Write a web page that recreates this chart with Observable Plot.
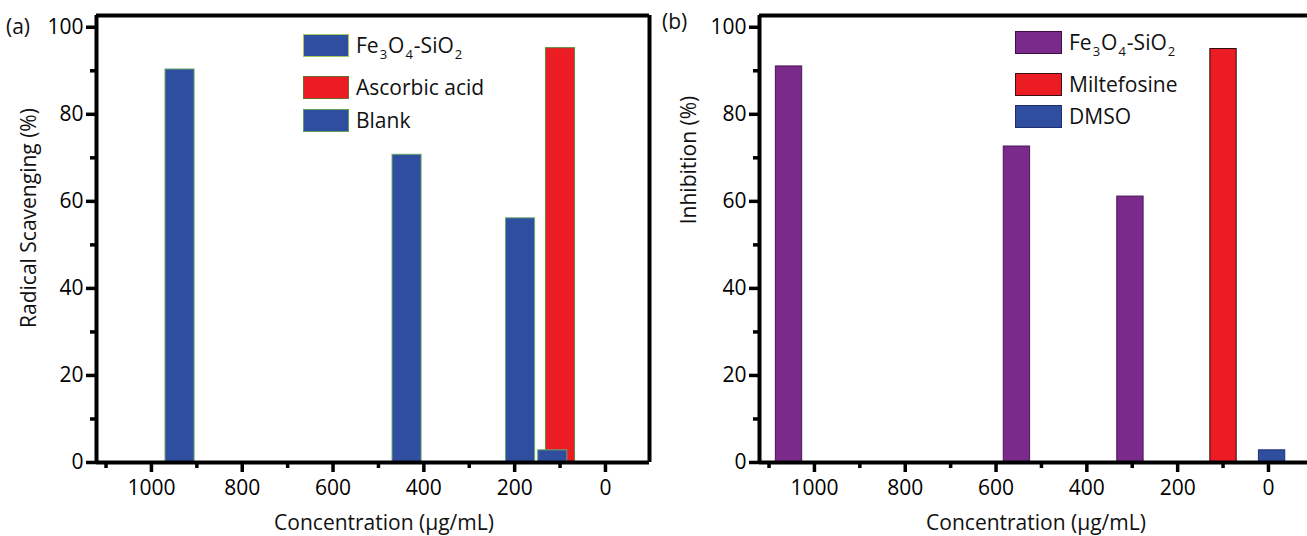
<!DOCTYPE html>
<html><head><meta charset="utf-8">
<script src="https://cdn.jsdelivr.net/npm/d3@7"></script>
<script src="https://cdn.jsdelivr.net/npm/@observablehq/plot@0.6"></script>
<style>
html,body{margin:0;padding:0;background:#fff;overflow:hidden;}
#wrap{position:relative;width:1307px;height:536px;font-family:"Open Sans",sans-serif;color:#111;overflow:hidden;}
.panel{position:absolute;top:0;}
.txt{position:absolute;white-space:nowrap;line-height:1;}
.sw{position:absolute;box-sizing:border-box;}
.legtxt{position:absolute;display:flex;align-items:center;white-space:nowrap;font-size:21px;line-height:1;}
.legtxt sub{font-size:13px;position:relative;top:9px;vertical-align:baseline;margin:0 1px;}
</style></head><body><div id="wrap"></div>
<script>
// ---- data ----
const xTicksMajor = [1000, 800, 600, 400, 200, 0];
const xTicksMinor = [1100, 900, 700, 500, 300, 100];
const yTicksMajor = [0, 20, 40, 60, 80, 100];
const yTicksMinor = [10, 30, 50, 70, 90];

const aSeriesNames = ["Fe3O4-SiO2", "Ascorbic acid", "Blank"];
const aFeConc = [937, 437, 187];
const aFeVal = [90.3, 70.7, 56.1];
const aAscConc = [99];
const aAscVal = [95.2];
const aBlankConc = [116];
const aBlankVal = [2.8];

const bSeriesNames = ["Fe3O4-SiO2", "Miltefosine", "DMSO"];
const bFeConc = [1056, 554, 304];
const bFeVal = [91.0, 72.6, 61.1];
const bMilConc = [99];
const bMilVal = [95.0];
const bDmsoConc = [-8];
const bDmsoVal = [2.8];

// ---- styling ----
const BLUE = "#2f4e9f", RED = "#ec1c24", PURPLE = "#7a2a8b";
const INK = "#000";
const wrap = document.getElementById("wrap");
const FONT = '"Open Sans", sans-serif';

function rows(conc, val) { return conc.map((c, i) => ({c, v: val[i]})); }

function makePanel(o) {
  const hw = o.barW / 2;
  const marks = [];
  for (const s of o.series) {
    marks.push(Plot.rectY(rows(s.conc, s.val), {
      x1: d => d.c + hw, x2: d => d.c - hw, y1: 0, y2: "v",
      fill: s.fill, stroke: s.stroke, strokeWidth: 1
    }));
  }
  const LW = 4;
  marks.push(Plot.ruleY([0], {stroke: INK, strokeWidth: LW, strokeOpacity: 1}));
  marks.push(Plot.ruleY([o.yTop], {stroke: INK, strokeWidth: LW, strokeOpacity: 1}));
  marks.push(Plot.ruleX([o.xDomain[0]], {stroke: INK, strokeWidth: LW, strokeOpacity: 1}));
  if (o.fullFrame) marks.push(Plot.ruleX([o.xDomain[1]], {stroke: INK, strokeWidth: LW, strokeOpacity: 1}));
  marks.push(Plot.axisX({ticks: xTicksMajor, tickSize: 10, tickPadding: 8, fontSize: 21, label: null, stroke: INK, strokeWidth: 3.5, color: INK, tickFormat: d => String(d)}));
  marks.push(Plot.axisX({ticks: xTicksMinor, tickSize: 6, tickFormat: () => "", label: null, stroke: INK, strokeWidth: 3.5}));
  marks.push(Plot.axisY({ticks: yTicksMajor, tickSize: 10, tickPadding: 3, fontSize: 21, label: null, stroke: INK, strokeWidth: 3.5, color: INK, tickFormat: d => String(d)}));
  marks.push(Plot.axisY({ticks: yTicksMinor, tickSize: 6, tickFormat: () => "", label: null, stroke: INK, strokeWidth: 3.5}));
  const svg = Plot.plot({
    width: o.width, height: 536,
    marginLeft: o.marginLeft, marginRight: o.marginRight, marginTop: 15, marginBottom: 74,
    x: {domain: o.xDomain},
    y: {domain: [0, o.yTop]},
    style: {fontFamily: FONT, background: "transparent", overflow: "visible", color: INK},
    marks
  });
  svg.classList.add("panel");
  svg.style.left = o.left + "px";
  wrap.appendChild(svg);
}

makePanel({
  left: 0, width: 660, marginLeft: 96, marginRight: 11, xDomain: [1121, -97], yTop: 102.7, barW: 64, fullFrame: true,
  series: [
    {conc: aFeConc, val: aFeVal, fill: BLUE, stroke: "#6aa86a"},
    {conc: aAscConc, val: aAscVal, fill: RED, stroke: "#5f8a3a"},
    {conc: aBlankConc, val: aBlankVal, fill: BLUE, stroke: "#6aa86a"}
  ]
});
makePanel({
  left: 660, width: 647, marginLeft: 99, marginRight: 0, xDomain: [1121, -86], yTop: 102.7, barW: 58, fullFrame: false,
  series: [
    {conc: bFeConc, val: bFeVal, fill: PURPLE, stroke: "#4a1656"},
    {conc: bMilConc, val: bMilVal, fill: RED, stroke: "#2a1010"},
    {conc: bDmsoConc, val: bDmsoVal, fill: BLUE, stroke: "#1d2f78"}
  ]
});

// ---- text ----
function addText(str, x, y, size, opts = {}) {
  const d = document.createElement("div");
  d.className = "txt";
  d.textContent = str;
  d.style.fontSize = size + "px";
  d.style.left = x + "px";
  d.style.top = y + "px";
  d.style.transform = opts.rotate ? "translate(-50%,-50%) rotate(-90deg)" : (opts.center ? "translate(-50%,-50%)" : "translate(0,-50%)");
  wrap.appendChild(d);
}
addText("(a)", 6, 26, 21);
addText("(b)", 662, 21, 21);
addText("Radical Scavenging (%)", 28, 218, 21, {rotate: true});
addText("Inhibition (%)", 688, 160, 21, {rotate: true});
addText("Concentration (\u00b5g/mL)", 384, 522, 21, {center: true});
addText("Concentration (\u00b5g/mL)", 1036, 522, 21, {center: true});

// ---- legends ----
function fmtName(n) { return n.replace(/(\d)/g, "<sub>$1</sub>"); }
function legend(names, fills, strokes, x, tops, w, h) {
  names.forEach((n, i) => {
    const s = document.createElement("div");
    s.className = "sw";
    s.style.left = x + "px"; s.style.top = tops[i] + "px";
    s.style.width = w + "px"; s.style.height = h + "px";
    s.style.background = fills[i];
    s.style.border = "1.5px solid " + strokes[i];
    wrap.appendChild(s);
    const t = document.createElement("div");
    t.className = "legtxt";
    t.style.left = (x + w + 7) + "px"; t.style.top = tops[i] + "px"; t.style.height = h + "px";
    t.innerHTML = fmtName(n);
    wrap.appendChild(t);
  });
}
legend(aSeriesNames, [BLUE, RED, BLUE], ["#a7c85a", "#6b6b2a", "#5fa05f"], 303, [34, 76, 109], 46, 23);
legend(bSeriesNames, [PURPLE, RED, BLUE], ["#3b1040", "#3a1010", "#1e2e6e"], 1015, [31, 73, 105], 47, 23);
</script></body></html>
